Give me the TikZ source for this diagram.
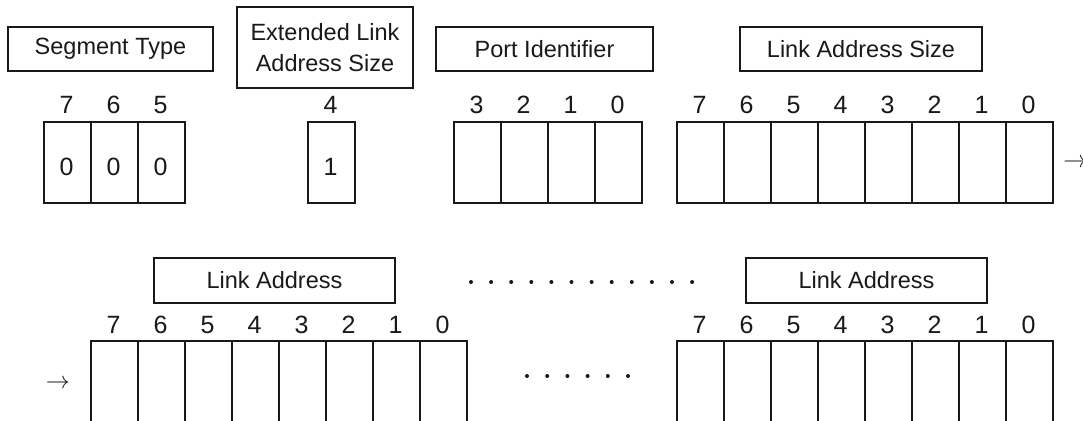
\documentclass[tikz,border=0pt]{standalone}
\usepackage{fontspec}
\setmainfont{Liberation Sans}
\begin{document}
\begin{tikzpicture}[x=0.5pt,y=-0.5pt,
  lbl/.style={draw=black!90, line width=0.9pt, inner sep=0pt, align=center, text=black!90,
    font=\fontsize{11.75}{15.5}\selectfont},
  cell/.style={draw=black!90, line width=0.9pt, inner sep=0pt, minimum width=23.5pt,
    minimum height=40.5pt, anchor=north west},
  lowcell/.style={cell, minimum height=50pt},
  bit/.style={inner sep=0pt, anchor=base, text=black!90, font=\fontsize{12.5}{14}\selectfont},
  arr/.style={inner sep=0pt, text=black!90, font=\fontsize{11.75}{14}\selectfont},
  dotmark/.style={fill=black!90}]
\useasboundingbox (0,0) rectangle (1083,420);
\fill[white] (0,0) rectangle (1083,420);
\clip (0,0) rectangle (1083,420);

% ---- row 1 label boxes
\node[lbl, minimum width=102.5pt, minimum height=22pt] (segtype) at (110.5,49) {Segment Type};
\node[lbl, minimum width=88pt, minimum height=40.5pt] (extsize) at (325,47.5) {Extended Link\\Address Size};
\node[lbl, minimum width=108.5pt, minimum height=22pt] (portid) at (544.5,49) {Port Identifier};
\node[lbl, minimum width=121pt, minimum height=22pt] (lasize) at (861,49) {Link Address Size};

% ---- row 1 cells
\foreach \i in {0,1,2} {
  \pgfmathtruncatemacro\b{7-\i}
  \node[cell] (a\i) at ({43+47*\i},121) {};
  \node[bit] (ab\i) at ({66.5+47*\i},113) {\b};
  \node[bit] (av\i) at ({66.5+47*\i},175) {0};
}
\node[cell] (b0) at (307,121) {};
\node[bit] (bb0) at (330.5,113) {4};
\node[bit] (bv0) at (330.5,175) {1};
\foreach \i in {0,...,3} {
  \pgfmathtruncatemacro\b{3-\i}
  \node[cell] (c\i) at ({453+47*\i},121) {};
  \node[bit] (cb\i) at ({476.5+47*\i},113) {\b};
}
\foreach \i in {0,...,7} {
  \pgfmathtruncatemacro\b{7-\i}
  \node[cell] (d\i) at ({676+47*\i},121) {};
  \node[bit] (db\i) at ({699.5+47*\i},113) {\b};
}
\node[arr, anchor=west] (arrR) at (1063,163) {$\rightarrow$};

% ---- row 2
\node[lbl, minimum width=120.5pt, minimum height=22.5pt] (laddr1) at (274.5,280.5) {Link Address};
\node[lbl, minimum width=120.5pt, minimum height=22.5pt] (laddr2) at (866.5,280.5) {Link Address};
\foreach \i in {0,...,11} { \fill[dotmark] ({471+20.1*\i},282) circle[radius=1pt]; }
\foreach \i in {0,...,5} { \fill[dotmark] ({527+20.2*\i},376) circle[radius=1pt]; }
\foreach \i in {0,...,7} {
  \pgfmathtruncatemacro\b{7-\i}
  \node[lowcell] (e\i) at ({90+47*\i},340) {};
  \node[bit] (eb\i) at ({113.5+47*\i},333) {\b};
  \node[lowcell] (f\i) at ({676+47*\i},340) {};
  \node[bit] (fb\i) at ({699.5+47*\i},333) {\b};
}
\node[arr] (arrL) at (58,384) {$\rightarrow$};
\end{tikzpicture}
\end{document}
